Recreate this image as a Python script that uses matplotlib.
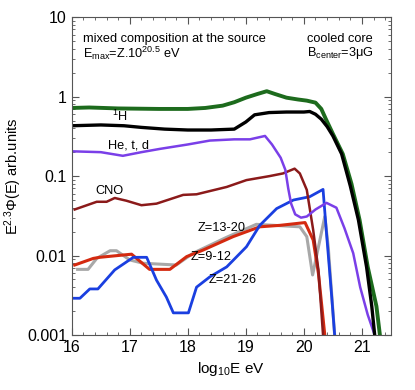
import matplotlib
matplotlib.use("Agg")
import matplotlib.pyplot as plt
from matplotlib.ticker import FixedLocator, LogLocator, FuncFormatter, MultipleLocator

plt.rcParams['font.family'] = ['Liberation Sans', 'DejaVu Sans']
plt.rcParams['mathtext.fontset'] = 'custom'
plt.rcParams['mathtext.rm'] = 'Liberation Sans'

# total
x_all = [16.0, 16.3, 16.8, 17.5, 18.0, 18.3, 18.6, 18.8, 19.0, 19.2, 19.36, 19.5, 19.7,
         19.9, 20.05, 20.2, 20.3, 20.38, 20.5, 20.67, 20.82, 20.96, 21.1, 21.25, 21.31]
y_all = [0.72, 0.73, 0.71, 0.70, 0.70, 0.72, 0.77, 0.85, 0.97, 1.08, 1.17, 1.08, 0.97,
         0.92, 0.89, 0.84, 0.70, 0.52, 0.34, 0.19, 0.08, 0.028, 0.0072, 0.0023, 0.001]

# protons
x_h = [16.0, 16.5, 16.9, 17.2, 17.6, 18.0, 18.4, 18.8, 19.0, 19.15, 19.4, 19.7, 20.0,
       20.1, 20.2, 20.3, 20.4, 20.5, 20.65, 20.8, 20.94, 21.08, 21.17, 21.22]
y_h = [0.43, 0.44, 0.43, 0.41, 0.39, 0.38, 0.38, 0.39, 0.48, 0.59, 0.63, 0.64, 0.64,
       0.65, 0.60, 0.52, 0.42, 0.32, 0.19, 0.075, 0.028, 0.0072, 0.0023, 0.001]

# He, t, d
x_he = [16.0, 16.5, 16.88, 17.2, 17.52, 18.0, 18.38, 18.8, 19.07, 19.33, 19.45, 19.6,
        19.68, 19.73, 19.78, 19.85, 19.95, 20.05, 20.2, 20.39, 20.56, 20.7, 20.85,
        20.97, 21.1, 21.22]
y_he = [0.205, 0.2, 0.18, 0.2, 0.22, 0.25, 0.28, 0.29, 0.29, 0.32, 0.25, 0.17,
        0.12, 0.07, 0.045, 0.033, 0.03, 0.031, 0.038, 0.046, 0.04, 0.022, 0.0107,
        0.004, 0.0018, 0.001]

# CNO
x_cno = [16.05, 16.43, 16.6, 16.74, 16.94, 17.2, 17.46, 17.92, 18.15, 18.67, 19.01,
         19.41, 19.64, 19.84, 19.93, 20.05, 20.16, 20.25, 20.33]
y_cno = [0.038, 0.0475, 0.0475, 0.053, 0.049, 0.043, 0.045, 0.058, 0.059, 0.073, 0.089,
         0.10, 0.108, 0.124, 0.108, 0.067, 0.021, 0.0066, 0.001]

# Z=9-12
x_z9 = [16.05, 16.37, 16.48, 17.03, 17.34, 17.69, 17.98, 18.26, 18.78, 19.24, 19.59,
        20.02, 20.16, 20.25, 20.36]
y_z9 = [0.0076, 0.0092, 0.0095, 0.0104, 0.0067, 0.0067, 0.0097, 0.0117, 0.0173, 0.023,
        0.024, 0.026, 0.0157, 0.006, 0.001]

# Z=13-20
x_z13 = [16.1, 16.28, 16.43, 16.66, 16.77, 17.0, 17.23, 17.8, 18.09, 18.67, 19.18,
         19.93, 20.05, 20.15, 20.36, 20.42, 20.53]
y_z13 = [0.0067, 0.0067, 0.0092, 0.0115, 0.0115, 0.0088, 0.008, 0.0076, 0.0107, 0.017,
         0.0247, 0.023, 0.0173, 0.0057, 0.031, 0.0128, 0.001]

# Z=21-26
x_z21 = [16.0, 16.14, 16.31, 16.45, 16.74, 17.06, 17.29, 17.46, 17.63, 17.75, 18.01,
         18.15, 18.38, 18.67, 19.01, 19.24, 19.53, 19.82, 20.1, 20.33, 20.39, 20.48, 20.53]
y_z21 = [0.0029, 0.0029, 0.0038, 0.0038, 0.0066, 0.0095, 0.0095, 0.0049, 0.003, 0.0019,
         0.0019, 0.004, 0.0054, 0.0072, 0.0129, 0.024, 0.039, 0.05, 0.055, 0.068, 0.019,
         0.003, 0.001]

fig = plt.figure(figsize=(4.15, 3.9), dpi=100)
ax = fig.add_axes([0.173, 0.141, 0.769, 0.815])

ax.plot(x_z13, y_z13, color='#a8a8a8', lw=2.2)
ax.plot(x_z9, y_z9, color='#d42a10', lw=2.2)
ax.plot(x_z21, y_z21, color='#1a3fe0', lw=2.0)
ax.plot(x_cno, y_cno, color='#8b1a1a', lw=1.8)
ax.plot(x_he, y_he, color='#7a3fe8', lw=1.8)
ax.plot(x_all, y_all, color='#1d6b1d', lw=2.8)
ax.plot(x_h, y_h, color='black', lw=2.4)

ax.set_yscale('log')
ax.set_xlim(16, 21.5)
ax.set_ylim(0.001, 10)

ax.xaxis.set_major_locator(FixedLocator([16, 17, 18, 19, 20, 21]))
ax.xaxis.set_minor_locator(MultipleLocator(0.2))
ax.yaxis.set_major_locator(LogLocator(base=10))
ax.yaxis.set_minor_locator(LogLocator(base=10, subs=range(2, 10)))
ax.yaxis.set_major_formatter(FuncFormatter(lambda v, p: '%g' % v))
ax.yaxis.set_minor_formatter(FuncFormatter(lambda v, p: ''))
ax.tick_params(which='both', direction='in', top=True, right=True, labelsize=11.5,
               color='#555555')
ax.tick_params(which='major', length=5, width=0.8)
ax.tick_params(which='minor', length=2.5, width=0.6)
for s in ax.spines.values():
    s.set_color('#555555')
    s.set_linewidth(0.8)

ax.set_xlabel('log$\\mathregular{_{10}}$E eV', fontsize=11)
ax.set_ylabel('E$\\mathregular{^{2.3}}$\u03a6(E) arb.units', fontsize=10.5, labelpad=2)

fs = 9.2
ax.text(0.035, 0.93, 'mixed composition at the source', transform=ax.transAxes,
        fontsize=fs, va='center')
ax.text(0.035, 0.885, 'E$\\mathregular{_{max}}$=Z.10$\\mathregular{^{20.5}}$ eV',
        transform=ax.transAxes, fontsize=fs, va='center')
ax.text(0.737, 0.93, 'cooled core', transform=ax.transAxes, fontsize=fs, va='center')
ax.text(0.737, 0.888, 'B$\\mathregular{_{center}}$=3\u03bcG', transform=ax.transAxes,
        fontsize=fs, va='center')

ax.text(16.7, 0.57, '$\\mathregular{^1}$H', fontsize=fs, va='center')
ax.text(16.62, 0.245, 'He, t, d', fontsize=fs, va='center')
ax.text(16.4, 0.065, 'CNO', fontsize=fs, va='center')
ax.text(18.16, 0.0222, 'Z=13-20', fontsize=fs, va='center')
ax.text(18.05, 0.0096, 'Z=9-12', fontsize=fs, va='center')
ax.text(18.36, 0.0049, 'Z=21-26', fontsize=fs, va='center')

fig.savefig('out.png', dpi=100)
